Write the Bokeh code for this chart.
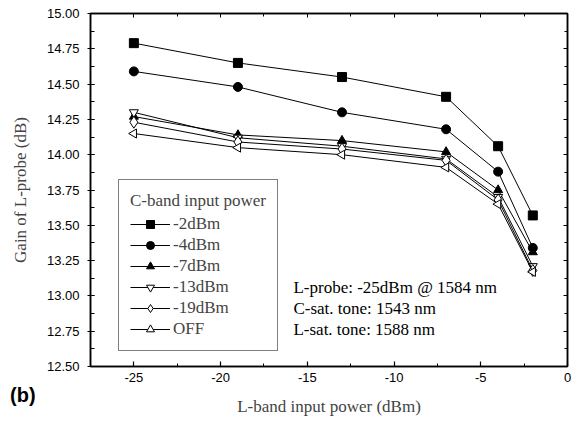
import math
from bokeh.plotting import figure
from bokeh.layouts import column
from bokeh.models import (Range1d, LinearAxis, SingleIntervalTicker, NumeralTickFormatter,
                          CustomJSTickFormatter, Legend, LegendItem, Label, Div)
from bokeh.embed import file_html
from bokeh.resources import INLINE

# ---- data ----
l_band_power = [-25, -19, -13, -7, -4, -2]
gain_m2 = [14.79, 14.65, 14.55, 14.41, 14.06, 13.57]
gain_m4 = [14.59, 14.48, 14.30, 14.18, 13.88, 13.34]
gain_m7 = [14.27, 14.14, 14.10, 14.02, 13.75, 13.31]
gain_m13 = [14.30, 14.12, 14.06, 13.97, 13.70, 13.21]
gain_m19 = [14.23, 14.09, 14.04, 13.96, 13.68, 13.18]
gain_off = [14.15, 14.05, 14.00, 13.91, 13.65, 13.17]
series_labels = ["-2dBm", "-4dBm", "-7dBm", "-13dBm", "-19dBm", "OFF"]
legend_title = "C-band input power"
notes = ["L-probe: -25dBm @ 1584 nm", "C-sat. tone: 1543 nm", "L-sat. tone: 1588 nm"]
x_title = "L-band input power (dBm)"
y_title = "Gain of L-probe (dB)"
panel_tag = "(b)"

SERIF = "Liberation Serif"
SANS = "Liberation Sans"

p = figure(width=578, height=422, output_backend="svg", toolbar_location=None,
           x_range=Range1d(-27.5, 0), y_range=Range1d(12.5, 15.0),
           min_border_left=90, min_border_right=11, min_border_top=13, min_border_bottom=56)
p.background_fill_color = "white"
p.border_fill_color = "white"
p.outline_line_color = "black"
p.outline_line_width = 1.5
p.xgrid.visible = False
p.ygrid.visible = False

blank = CustomJSTickFormatter(code="return ''")

# bottom axis
xa = p.xaxis[0]
xa.ticker = SingleIntervalTicker(interval=5, num_minor_ticks=2)
xa.formatter = NumeralTickFormatter(format="0")
xa.axis_label = x_title
xa.axis_label_text_font = SERIF
xa.axis_label_text_font_style = "normal"
xa.axis_label_text_font_size = "17px"
xa.axis_label_standoff = 12
xa.major_label_text_font = SANS
xa.major_label_text_font_size = "13px"
xa.major_label_text_color = "black"
xa.major_label_standoff = 6
xa.major_tick_in = 5
xa.major_tick_out = 0
xa.minor_tick_in = 3
xa.minor_tick_out = 0
xa.axis_line_width = 1.5
xa.major_tick_line_width = 1.2

# left axis
ya = p.yaxis[0]
ya.ticker = SingleIntervalTicker(interval=0.25, num_minor_ticks=2)
ya.formatter = NumeralTickFormatter(format="0.00")
ya.axis_label = y_title
ya.axis_label_text_font = SERIF
ya.axis_label_text_font_style = "normal"
ya.axis_label_text_font_size = "17px"
ya.axis_label_standoff = 14
ya.major_label_text_font = SANS
ya.major_label_text_font_size = "13px"
ya.major_label_text_color = "black"
ya.major_label_standoff = 8
ya.major_tick_in = 4
ya.major_tick_out = 3
ya.minor_tick_in = 4
ya.minor_tick_out = 0
ya.axis_line_width = 1.5

# top and right axes (ticks only)
top = LinearAxis(ticker=SingleIntervalTicker(interval=5, num_minor_ticks=2),
                 formatter=blank, major_tick_in=4, major_tick_out=0,
                 minor_tick_in=3, minor_tick_out=0, axis_line_width=1.5,
                 major_label_standoff=0)
right = LinearAxis(ticker=SingleIntervalTicker(interval=0.25, num_minor_ticks=2),
                   formatter=blank, major_tick_in=4, major_tick_out=0,
                   minor_tick_in=3, minor_tick_out=0, axis_line_width=1.5,
                   major_label_standoff=0)
p.add_layout(top, "above")
p.add_layout(right, "right")

series = [
    (gain_m2, "square", "black", 0.0),
    (gain_m4, "circle", "black", 0.0),
    (gain_m7, "triangle", "black", 0.0),
    (gain_m13, "inverted_triangle", "white", 0.0),
    (gain_m19, "diamond", "white", 0.0),
    (gain_off, "triangle", "white", 90.0),
]

items = []
for (vals, marker, fill, ang), lab in zip(series, series_labels):
    r_line = p.line(l_band_power, vals, line_color="black", line_width=1)
    size = 12 if marker == "diamond" else 9
    r_pts = p.scatter(l_band_power, vals, marker=marker, size=size, angle=ang,
                      angle_units="deg",
                      fill_color=fill, line_color="black", line_width=1)
    items.append(LegendItem(label=lab, renderers=[r_line, r_pts]))

legend = Legend(items=items, location=(28, 15), title=legend_title,
                title_text_font=SERIF, title_text_font_size="17px",
                title_text_font_style="normal", title_standoff=3,
                label_text_font=SERIF, label_text_font_size="17px",
                label_height=20, glyph_height=20, glyph_width=40, spacing=1,
                label_standoff=3, padding=11, margin=0,
                border_line_color="black", border_line_width=1,
                background_fill_alpha=1.0)
p.add_layout(legend, "center")

note_y = [13.06, 12.91, 12.76]
for txt, yv in zip(notes, note_y):
    p.add_layout(Label(x=-15.8, y=yv, text=txt, text_font=SERIF, text_font_size="17px",
                       text_baseline="middle", text_color="black"))

tag = Div(text=panel_tag, width=50, height=26,
          styles={"position": "absolute", "left": "10px", "top": "383px",
                  "font-family": SANS, "font-size": "20px", "font-weight": "bold",
                  "line-height": "24px", "color": "black", "margin": "0"})

layout = column(p, tag, spacing=0)
open("out.html", "w").write(file_html(layout, INLINE))
